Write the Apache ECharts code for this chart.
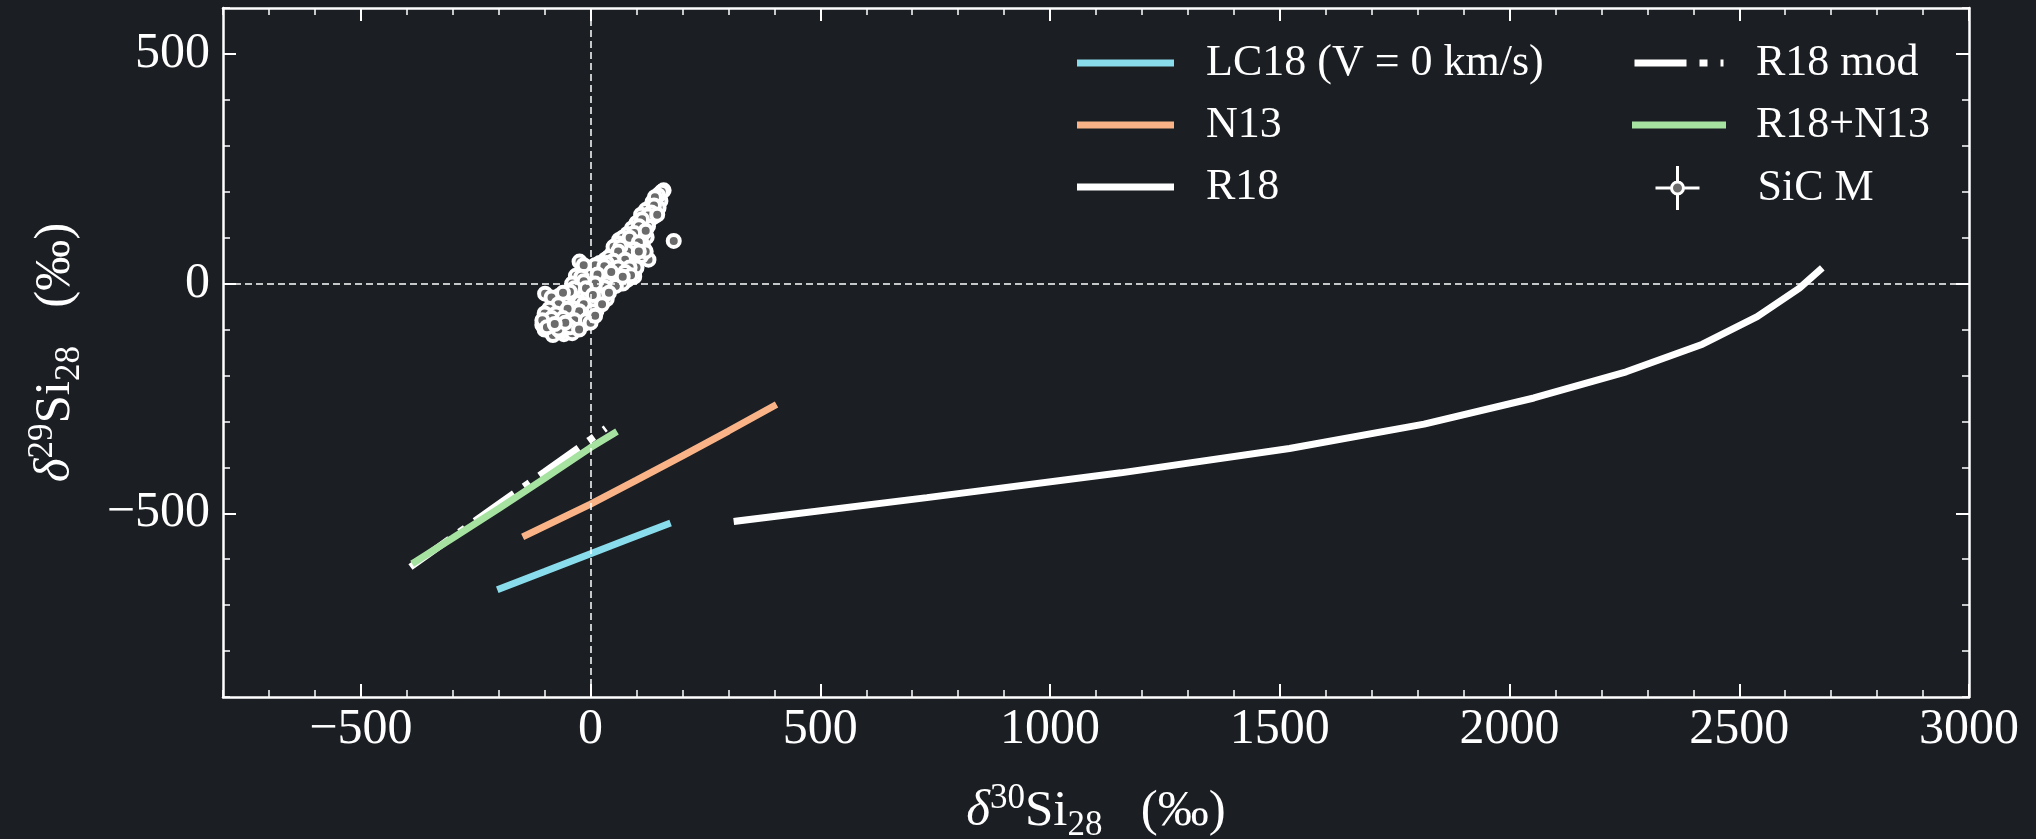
<!DOCTYPE html>
<html><head><meta charset="utf-8">
<script src="https://cdn.jsdelivr.net/npm/echarts/dist/echarts.min.js"></script>
<style>html,body{margin:0;padding:0;background:#1b1e23;}#c{width:2036px;height:839px;}</style>
</head><body><div id="c"></div>
<script>
// ---- data ----
const xMajorTicks = [-500, 0, 500, 1000, 1500, 2000, 2500, 3000];
const yMajorTicks = [-500, 0, 500];
const seriesNames = ['LC18 (V = 0 km/s)', 'N13', 'R18', 'R18 mod', 'R18+N13', 'SiC M'];
const lc18 = [[-196,-664],[-100,-627],[0,-588],[80,-557],[167,-524]];
const n13 = [[-141,-548],[0,-480],[100,-428],[200,-375],[300,-321],[398,-267]];
const r18 = [[319,-517],[732,-466],[1154,-412],[1521,-359],[1814,-306],[2053,-249],[2254,-192],[2420,-132],[2539,-72],[2631,-10],[2675,29]];
const r18mod = [[-392,-617],[-300,-551],[-200,-480],[-100,-410],[0,-339],[33,-315]];
const r18n13 = [[-382,-606],[-300,-554],[-200,-490],[-100,-424],[0,-357],[51,-326]];
const sicM = [
 [159,203],[142,172],[114,146],[97,113],[122,101],[181,93],[90,81],[68,73],[48,68],[32,52],
 [100,50],[126,52],[-24,48],[32,33],[82,31],[95,15],[11,14],[-18,6],[-32,17],[-24,-14],
 [10,-15],[-99,-22],[-69,-27],[-64,-50],[-7,-41],[35,-34],[13,-59],[-21,-81],[-50,-88],[-90,-68],
 [-105,-90],[-89,-103],[-58,-110],[-40,-50],[51,4],[62,95],[106,128],[124,153],[138,146],
 [150,195],[145,185],[135,178],[152,180],[128,165],[140,160],[120,160],[148,165],[110,150],[130,140],
 [118,135],[100,132],[125,125],[90,120],[108,118],[115,110],[80,108],[100,100],[70,100],[88,92],
 [110,92],[60,88],[78,85],[100,82],[115,78],[50,80],[72,62],[90,65],[55,60],[110,60],
 [40,58],[85,48],[62,45],[20,45],[45,40],[70,38],[95,42],[5,35],[55,28],[95,25],
 [25,25],[-10,28],[40,18],[65,18],[80,8],[-5,20],[20,8],[60,5],[35,0],[-25,-2],
 [0,-5],[45,-10],[25,-18],[-40,0],[-12,-28],[-30,-20],[18,-30],[-50,-30],[0,-45],[-25,-40],
 [-55,-45],[-75,-40],[-10,-55],[-40,-65],[-60,-62],[-80,-55],[-20,-70],[-5,-75],[-45,-78],[-70,-80],
 [-95,-80],[-30,-95],[-55,-98],[-75,-95],[-100,-100],[-40,-108],[-82,-112],[-65,-105],[-85,-85],[-15,-88],
 [155,200],[147,192],[140,188],[138,170],[132,155],[125,148],[145,150],[112,140],[105,125],[95,110],
 [120,115],[85,100],[105,90],[95,75],[80,70],[65,80],[120,70],[105,70],[60,70],[75,52],
 [50,50],[35,45],[100,35],[85,35],[10,40],[-15,40],[30,38],[60,35],[75,25],[88,18],
 [45,25],[15,20],[-20,15],[70,0],[55,-5],[30,-8],[10,0],[-15,5],[-35,-10],[-10,-10],
 [30,-25],[5,-25],[-45,-18],[-60,-20],[-85,-30],[-70,-45],[-35,-55],[-15,-45],[5,-60],[-25,-60],
 [-50,-55],[-90,-55],[-100,-65],[-75,-65],[-60,-75],[-35,-80],[-10,-80],[-85,-75],[-105,-80],[-95,-95],
 [-70,-100],[-45,-95],[-25,-100],[-55,-85],[-78,-88],[0,-85],[10,-70],[25,-45],[40,-20],[70,15]
];

// ---- style ----
const FONT = "'Liberation Serif','Times New Roman',serif";
const BG = '#1b1e23';
const WHITE = '#ffffff';
const C_LC = '#89dceb', C_N13 = '#fab387', C_GREEN = '#a6e3a1', C_GRAY = '#6b6b6b';
const fmt = v => String(v).replace('-', '\u2212');

function axisBase(extra) {
  return Object.assign({
    type: 'value', splitLine: {show: false},
    axisLine: {show: false, onZero: false, lineStyle: {color: WHITE, width: 2.5}},
    axisLabel: {show: false}, axisPointer: {show: false}
  }, extra);
}
const richName = {
  d: {fontFamily: FONT, fontSize: 51, fontStyle: 'italic', color: WHITE, lineHeight: 62},
  sup: {fontFamily: FONT, fontSize: 35, color: WHITE, lineHeight: 30, verticalAlign: 'top'},
  n: {fontFamily: FONT, fontSize: 51, color: WHITE, lineHeight: 62},
  sub: {fontFamily: FONT, fontSize: 35, color: WHITE, lineHeight: 32, verticalAlign: 'bottom'}
};
const majorTick = (vals) => ({show: true, inside: true, length: 13, customValues: vals, lineStyle: {color: WHITE, width: 2}});
const minorTick = {show: true, inside: true, length: 7, lineStyle: {color: WHITE, width: 1.5}};

const xRange = {min: -800, max: 3000, interval: 100};
const yRange = {min: -900, max: 600, interval: 100};

const option = {
  backgroundColor: BG,
  animation: false,
  grid: {left: 223, right: 67, top: 8, bottom: 142, containLabel: false, outerBoundsMode: 'none'},
  xAxis: [
    axisBase(Object.assign({}, xRange, {position: 'bottom',
      axisLine: {show: true, onZero: false, lineStyle: {color: WHITE, width: 2.5}},
      axisTick: majorTick(xMajorTicks),
      axisLabel: {show: true, customValues: xMajorTicks, formatter: fmt, color: WHITE, fontFamily: FONT, fontSize: 50, margin: 8},
      name: '{d|δ}{sup|30}{n|Si}{sub|28}{n|   (‰)}', nameLocation: 'middle', nameGap: 84,
      nameTextStyle: {rich: richName}})),
    axisBase(Object.assign({}, xRange, {position: 'bottom', axisTick: minorTick})),
    axisBase(Object.assign({}, xRange, {position: 'top',
      axisLine: {show: true, onZero: false, lineStyle: {color: WHITE, width: 2.5}},
      axisTick: majorTick(xMajorTicks)})),
    axisBase(Object.assign({}, xRange, {position: 'top', axisTick: minorTick}))
  ],
  yAxis: [
    axisBase(Object.assign({}, yRange, {position: 'left',
      axisLine: {show: true, onZero: false, lineStyle: {color: WHITE, width: 2.5}},
      axisTick: majorTick(yMajorTicks),
      axisLabel: {show: true, customValues: yMajorTicks, formatter: fmt, color: WHITE, fontFamily: FONT, fontSize: 50, margin: 13},
      name: '{d|δ}{sup|29}{n|Si}{sub|28}{n|   (‰)}', nameLocation: 'middle', nameGap: 136,
      nameTextStyle: {rich: richName}})),
    axisBase(Object.assign({}, yRange, {position: 'left', axisTick: minorTick})),
    axisBase(Object.assign({}, yRange, {position: 'right',
      axisLine: {show: true, onZero: false, lineStyle: {color: WHITE, width: 2.5}},
      axisTick: majorTick(yMajorTicks)})),
    axisBase(Object.assign({}, yRange, {position: 'right', axisTick: minorTick}))
  ],
  legend: [
    {left: 1077, top: 38, orient: 'vertical', padding: 0, itemGap: 12, itemWidth: 97, itemHeight: 7,
     selectedMode: false,
     textStyle: {color: WHITE, fontFamily: FONT, fontSize: 44, lineHeight: 50, padding: [0, 0, 0, 27]},
     data: [
       {name: seriesNames[0], icon: 'rect', itemStyle: {color: C_LC}},
       {name: seriesNames[1], icon: 'rect', itemStyle: {color: C_N13}},
       {name: seriesNames[2], icon: 'rect', itemStyle: {color: WHITE}}
     ]},
    {left: 1632, top: 38, orient: 'vertical', padding: 0, itemGap: 12, itemWidth: 94, itemHeight: 7,
     selectedMode: false,
     textStyle: {color: WHITE, fontFamily: FONT, fontSize: 44, lineHeight: 50, padding: [0, 0, 0, 25]},
     data: [
       {name: seriesNames[3], icon: 'path://M0,0H52V7H0Z M65,0H73V7H65Z M86,0H89V7H86Z', itemStyle: {color: WHITE}},
       {name: seriesNames[4], icon: 'rect', itemStyle: {color: C_GREEN}}
     ]},
    {left: 1654, top: 163, orient: 'vertical', padding: 0, itemWidth: 44, itemHeight: 44,
     selectedMode: false,
     textStyle: {color: WHITE, fontFamily: FONT, fontSize: 44, lineHeight: 50, padding: [0, 0, 0, 53]},
     data: [
       {name: seriesNames[5],
        icon: 'path://M0,22L16,22M28,22L44,22M22,0L22,16M22,28L22,44M28,22A6,6,0,1,1,16,22A6,6,0,1,1,28,22Z',
        itemStyle: {color: C_GRAY, borderColor: WHITE, borderWidth: 3}}
     ]}
  ],
  series: [
    {name: 'zero', type: 'line', data: [], silent: true, z: 3,
     markLine: {silent: true, symbol: 'none', label: {show: false},
       lineStyle: {color: WHITE, width: 1.5, type: [7, 4]},
       data: [{xAxis: 0}, {yAxis: 0}]}},
    {name: seriesNames[0], type: 'line', data: lc18, symbol: 'none', color: C_LC, z: 2,
     lineStyle: {color: C_LC, width: 7, cap: 'square'}},
    {name: seriesNames[1], type: 'line', data: n13, symbol: 'none', color: C_N13, z: 2,
     lineStyle: {color: C_N13, width: 7, cap: 'square'}},
    {name: seriesNames[2], type: 'line', data: r18, symbol: 'none', color: WHITE, z: 2,
     lineStyle: {color: WHITE, width: 7, cap: 'square'}},
    {name: seriesNames[3], type: 'line', data: r18mod, symbol: 'none', color: WHITE, z: 2,
     lineStyle: {color: WHITE, width: 7, type: [48, 12, 7, 12], cap: 'butt'}},
    {name: seriesNames[4], type: 'line', data: r18n13, symbol: 'none', color: C_GREEN, z: 2,
     lineStyle: {color: C_GREEN, width: 7, cap: 'square'}},
    {name: seriesNames[5], type: 'scatter', data: sicM, symbol: 'circle', symbolSize: 12, z: 4,
     color: C_GRAY,
     itemStyle: {color: C_GRAY, borderColor: WHITE, borderWidth: 4, opacity: 1}}
  ]
};
const chart = echarts.init(document.getElementById('c'), null, {renderer: 'canvas'});
chart.setOption(option);
</script></body></html>
